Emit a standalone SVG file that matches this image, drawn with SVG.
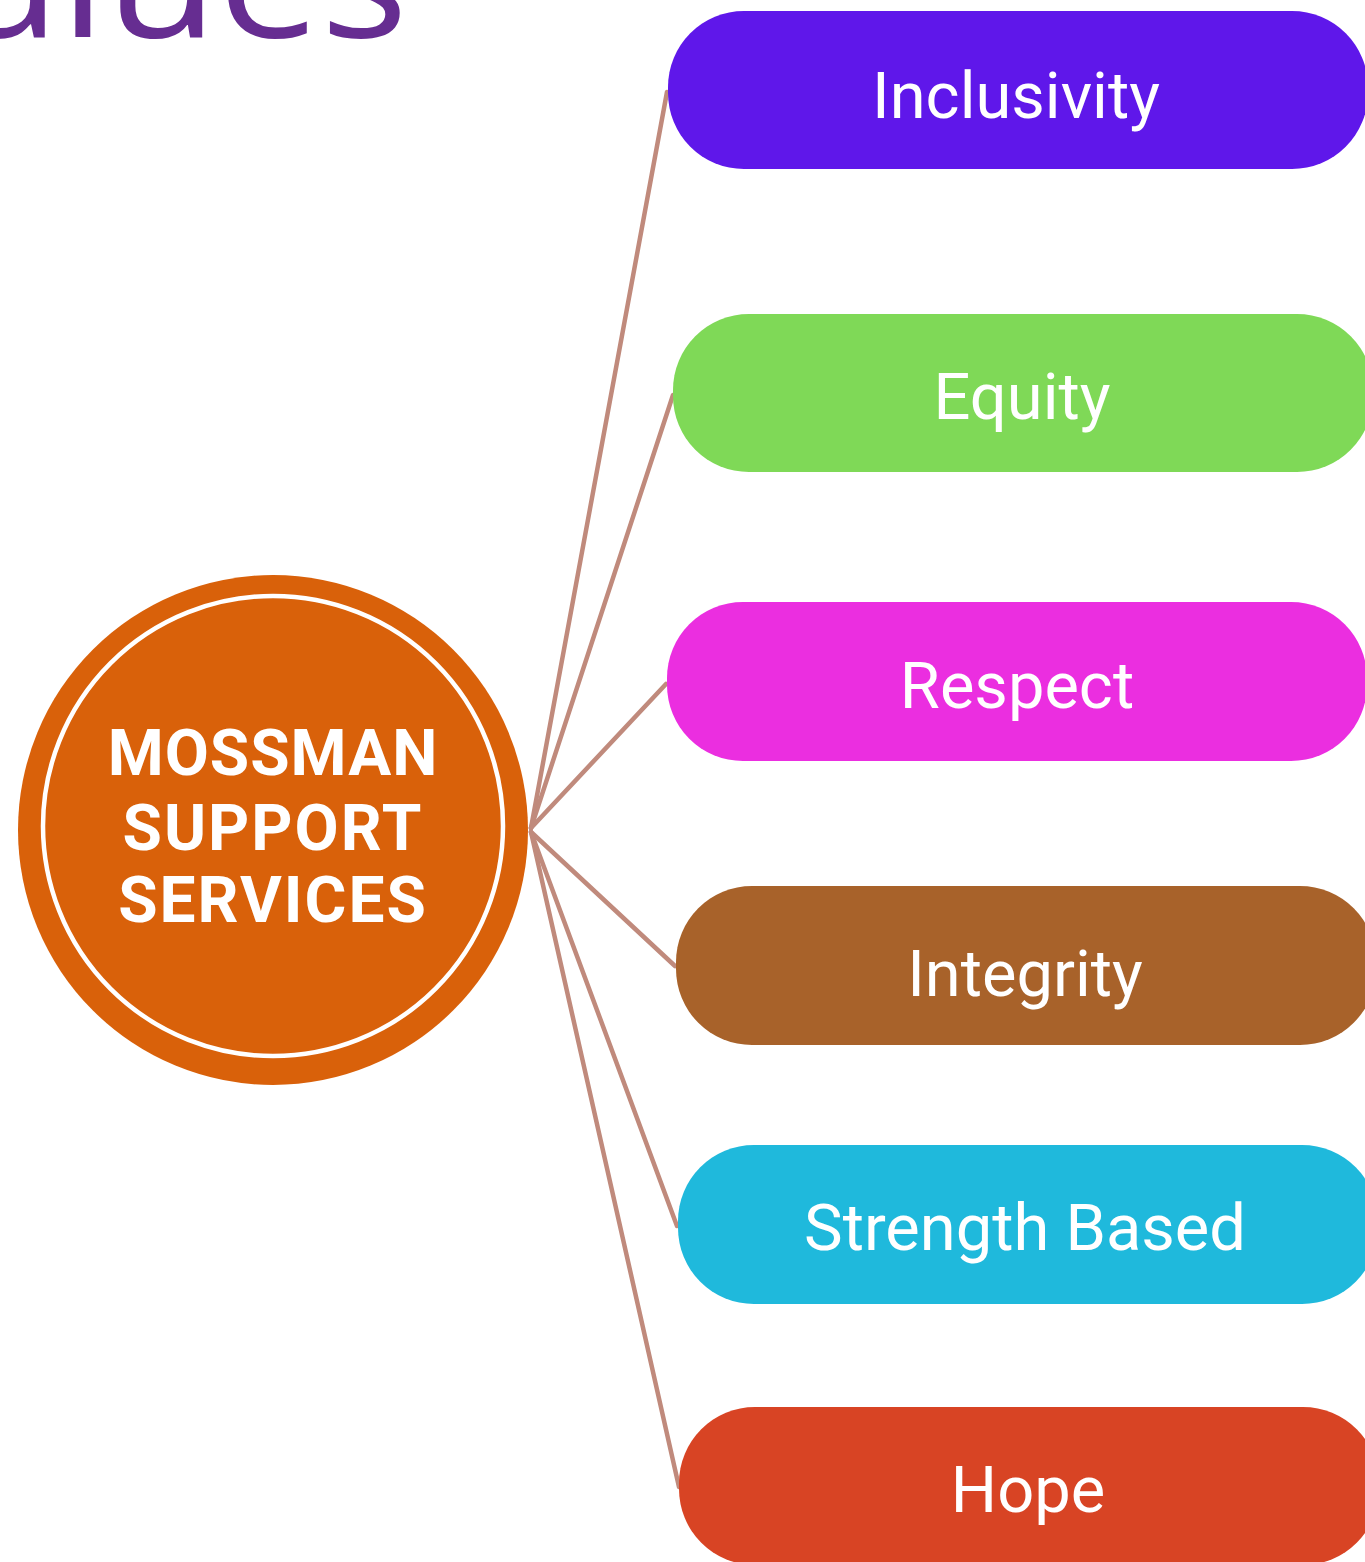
<svg xmlns="http://www.w3.org/2000/svg" width="1365" height="1562" viewBox="0 0 1365 1562">
  <style>
    .pill-label { font-family: Roboto, "Liberation Sans", sans-serif; font-size: 65px; fill: #ffffff; text-anchor: middle; }
    .hub-label { font-family: Roboto, "Liberation Sans", sans-serif; font-size: 64px; font-weight: 700; fill: #ffffff; text-anchor: middle; }
    .link { stroke: #c08a7c; stroke-width: 4.5; fill: none; stroke-linecap: round; }
  </style>

  <rect width="1365" height="1562" fill="#ffffff"/>

  <!-- heading -->
  <text x="-42" y="37" font-family="'Open Sans', 'Liberation Sans', sans-serif" font-size="165" font-weight="500" fill="#662d91" textLength="450" lengthAdjust="spacingAndGlyphs">alues</text>

  <!-- connectors from the hub to each value -->
  <g id="connectors">
    <line class="link" x1="531" y1="828" x2="667" y2="92"/>
    <line class="link" x1="531" y1="828" x2="673" y2="395"/>
    <line class="link" x1="531" y1="828" x2="666" y2="684"/>
    <line class="link" x1="531" y1="832" x2="675" y2="966"/>
    <line class="link" x1="531" y1="832" x2="677" y2="1226"/>
    <line class="link" x1="531" y1="832" x2="679" y2="1487"/>
  </g>

  <!-- hub -->
  <g id="hub">
    <circle cx="273" cy="830" r="255" fill="#d9610a"/>
    <circle cx="273" cy="826" r="230" fill="none" stroke="#ffffff" stroke-width="4.5"/>
    <text class="hub-label" x="273" y="775" letter-spacing="1">MOSSMAN</text>
    <text class="hub-label" x="273" y="850" letter-spacing="2">SUPPORT</text>
    <text class="hub-label" x="273" y="922" letter-spacing="2">SERVICES</text>
  </g>

  <g id="inclusivity">
    <rect x="668" y="11" width="700" height="158" rx="76" ry="76" fill="#5f17ea"/>
    <text class="pill-label" x="1016" y="118">Inclusivity</text>
  </g>
  <g id="equity">
    <rect x="673" y="314" width="700" height="158" rx="76" ry="76" fill="#7fd957"/>
    <text class="pill-label" x="1022" y="419">Equity</text>
  </g>
  <g id="respect">
    <rect x="667" y="602" width="700" height="159" rx="76" ry="76" fill="#eb2ee0"/>
    <text class="pill-label" x="1017" y="708">Respect</text>
  </g>
  <g id="integrity">
    <rect x="676" y="886" width="700" height="159" rx="76" ry="76" fill="#a8622a"/>
    <text class="pill-label" x="1025" y="996">Integrity</text>
  </g>
  <g id="strength-based">
    <rect x="678" y="1145" width="700" height="159" rx="76" ry="76" fill="#1fb9dc"/>
    <text class="pill-label" x="1025" y="1250">Strength Based</text>
  </g>
  <g id="hope">
    <rect x="679" y="1407" width="700" height="158" rx="76" ry="76" fill="#d84424"/>
    <text class="pill-label" x="1028" y="1512">Hope</text>
  </g>
</svg>
